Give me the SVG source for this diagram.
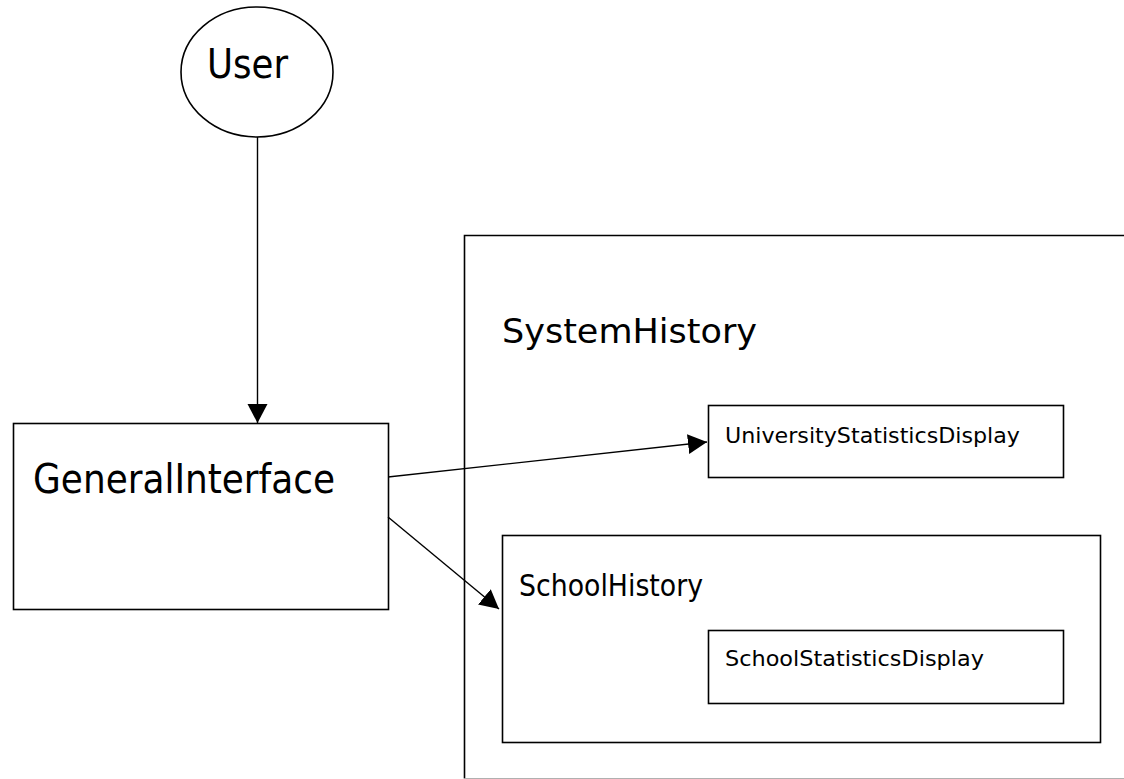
<svg xmlns="http://www.w3.org/2000/svg" width="1124" height="779" viewBox="0 0 1124 779">
  <style>
    .shape { fill: #ffffff; stroke: #000000; stroke-width: 1.6; }
    .edge { fill: none; stroke: #000000; stroke-width: 1.4; }
    .lbl { font-family: "DejaVu Sans Condensed", "DejaVu Sans", sans-serif; fill: #000000; }
  </style>
  <defs>
    <marker id="arrow" markerUnits="userSpaceOnUse" markerWidth="20" markerHeight="22" refX="19" refY="10" orient="auto">
      <path d="M0,0 L19,10 L0,20 Z" fill="#000000"/>
    </marker>
  </defs>
  <rect width="1124" height="779" fill="#ffffff"/>

  <!-- outer container, runs off the right and bottom edges -->
  <g id="SystemHistory">
    <path d="M1124,235.5 H464.5 V778.5" class="shape" fill="none"/>
    <path d="M464.5,778.5 H1124" fill="none" stroke="#b0b0b0" stroke-width="1.2"/>
    <text class="lbl" x="502" y="343" font-size="34" textLength="255" lengthAdjust="spacingAndGlyphs">SystemHistory</text>
  </g>

  <g id="User">
    <ellipse cx="257" cy="72" rx="76" ry="65" class="shape"/>
    <text class="lbl" x="207" y="78" font-size="40" textLength="81" lengthAdjust="spacingAndGlyphs">User</text>
  </g>

  <g id="GeneralInterface">
    <rect x="13.5" y="423.5" width="375" height="186" class="shape"/>
    <text class="lbl" x="33" y="493" font-size="41" textLength="302" lengthAdjust="spacingAndGlyphs">GeneralInterface</text>
  </g>

  <g id="UniversityStatisticsDisplay">
    <rect x="708.5" y="405.5" width="355" height="72" class="shape"/>
    <text class="lbl" x="725" y="443" font-size="22" textLength="295" lengthAdjust="spacingAndGlyphs">UniversityStatisticsDisplay</text>
  </g>

  <g id="SchoolHistory">
    <rect x="502.5" y="535.5" width="598" height="207" class="shape"/>
    <text class="lbl" x="519" y="596" font-size="31" textLength="184" lengthAdjust="spacingAndGlyphs">SchoolHistory</text>
  </g>

  <g id="SchoolStatisticsDisplay">
    <rect x="708.5" y="630.5" width="355" height="73" class="shape"/>
    <text class="lbl" x="725" y="666" font-size="22" textLength="259" lengthAdjust="spacingAndGlyphs">SchoolStatisticsDisplay</text>
  </g>

  <g id="connectors">
    <line x1="257.5" y1="137" x2="257.5" y2="423" class="edge" marker-end="url(#arrow)"/>
    <line x1="388" y1="477" x2="707" y2="442" class="edge" marker-end="url(#arrow)"/>
    <line x1="388" y1="517" x2="499" y2="609" class="edge" marker-end="url(#arrow)"/>
  </g>
</svg>
